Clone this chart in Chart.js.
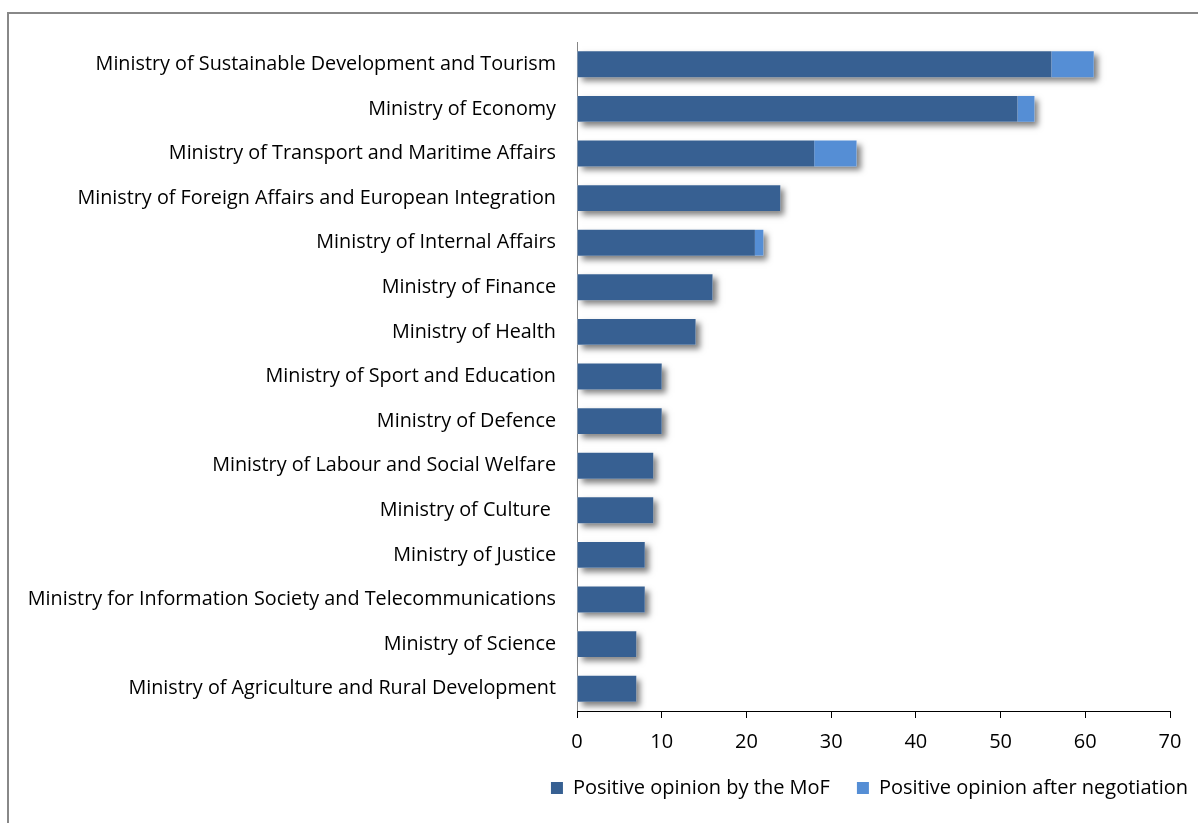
<!DOCTYPE html>
<html>
<head>
<meta charset="utf-8">
<script src="https://cdn.jsdelivr.net/npm/chart.js@4"></script>
<style>
    html, body { margin: 0; padding: 0; background: #fff; overflow: hidden; }
    #moldura {
        position: absolute; left: 7px; top: 12px; width: 1250px; height: 850px;
        border-left: 2px solid #888; border-top: 2px solid #888;
    }
    #wrap { position: absolute; left: 0; top: 0; width: 1215px; height: 823px; }
</style>
</head>
<body>
<div id="moldura"></div>
<div id="wrap"><canvas id="chartMinisterios"></canvas></div>
<script>
// Dados do gráfico
const ministerios = [
    'Ministry of Sustainable Development and Tourism',
    'Ministry of Economy',
    'Ministry of Transport and Maritime Affairs',
    'Ministry of Foreign Affairs and European Integration',
    'Ministry of Internal Affairs',
    'Ministry of Finance',
    'Ministry of Health',
    'Ministry of Sport and Education',
    'Ministry of Defence',
    'Ministry of Labour and Social Welfare',
    'Ministry of Culture ',
    'Ministry of Justice',
    'Ministry for Information Society and Telecommunications',
    'Ministry of Science',
    'Ministry of Agriculture and Rural Development'
];
const opiniaoMoF = [56, 52, 28, 24, 21, 16, 14, 10, 10, 9, 9, 8, 8, 7, 7];
const opiniaoNegociacao = [5, 2, 5, 0, 1, 0, 0, 0, 0, 0, 0, 0, 0, 0, 0];
const nomesSeries = ['Positive opinion by the MoF', 'Positive opinion after negotiation'];
const ticksX = [0, 10, 20, 30, 40, 50, 60, 70];

const fonte = '"Open Sans", Lato, sans-serif';

// Sombra de cada barra empilhada (desenhada antes das barras)
const sombraBarras = {
    id: 'sombraBarras',
    beforeDatasetsDraw(chart) {
        const ctx = chart.ctx;
        const metas = chart.getSortedVisibleDatasetMetas();
        if (!metas.length) return;
        ctx.save();
        ctx.shadowColor = 'rgba(0, 0, 0, 0.5)';
        ctx.shadowBlur = 6;
        ctx.shadowOffsetX = 4;
        ctx.shadowOffsetY = 4;
        ctx.fillStyle = '#ffffff';
        metas[0].data.forEach((el, i) => {
            let fim = el.x;
            metas.forEach(m => {
                const e = m.data[i];
                if (e && Math.abs(e.x - e.base) > 0.5) fim = Math.max(fim, e.x);
            });
            ctx.fillRect(el.base, el.y - el.height / 2, fim - el.base, el.height);
        });
        ctx.restore();
    }
};

new Chart(document.getElementById('chartMinisterios'), {
    type: 'bar',
    data: {
        labels: ministerios,
        datasets: [{
            label: nomesSeries[0],
            data: opiniaoMoF,
            backgroundColor: '#376092',
            borderWidth: 0,
            barPercentage: 0.58,
            categoryPercentage: 1
        }, {
            label: nomesSeries[1],
            data: opiniaoNegociacao,
            backgroundColor: '#558ed5',
            borderWidth: 0,
            barPercentage: 0.58,
            categoryPercentage: 1
        }]
    },
    options: {
        indexAxis: 'y',
        responsive: true,
        maintainAspectRatio: false,
        animation: false,
        layout: {
            padding: { top: 42, right: 0, bottom: 15, left: 0 }
        },
        plugins: {
            legend: {
                position: 'bottom',
                align: 'end',
                labels: {
                    boxWidth: 12,
                    boxHeight: 12,
                    padding: 27,
                    color: '#000',
                    font: { family: fonte, size: 20 }
                }
            },
            tooltip: { enabled: false }
        },
        scales: {
            y: {
                stacked: true,
                afterFit: function(scale) { scale.width = 577; },
                grid: { display: false, drawTicks: false },
                border: { color: '#868686', width: 1 },
                ticks: {
                    padding: 21,
                    color: '#000',
                    font: { family: fonte, size: 19.8 }
                }
            },
            folga: {
                type: 'category',
                position: 'right',
                afterFit: function(scale) { scale.width = 45; },
                grid: { display: false },
                border: { display: false },
                ticks: { display: false }
            },
            x: {
                stacked: true,
                min: 0,
                max: 70,
                afterBuildTicks: function(scale) {
                    scale.ticks = ticksX.map(v => ({ value: v }));
                },
                afterFit: function(scale) { scale.height = 40; },
                grid: {
                    display: true,
                    drawOnChartArea: false,
                    drawTicks: true,
                    tickLength: 7,
                    color: '#000'
                },
                border: { color: '#000', width: 1 },
                ticks: {
                    padding: 12,
                    color: '#000',
                    font: { family: fonte, size: 20 }
                }
            }
        }
    },
    plugins: [sombraBarras]
});
</script>
</body>
</html>
